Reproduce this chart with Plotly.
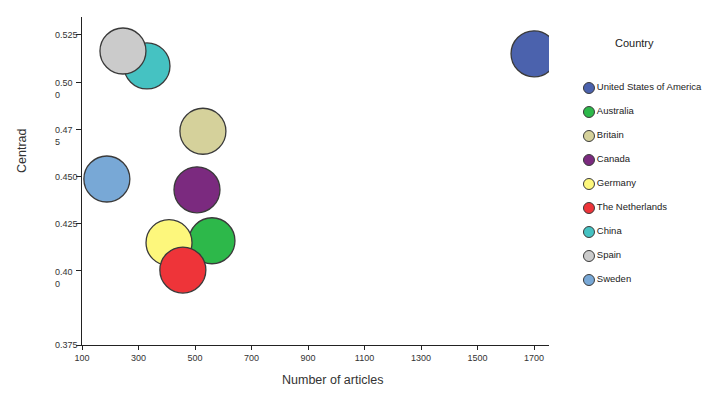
import plotly.graph_objects as go

# data
countries = ["United States of America", "Australia", "Britain", "Canada", "Germany",
             "The Netherlands", "China", "Spain", "Sweden"]
articles = [1700, 560, 528, 507, 408, 457, 330, 245, 188]
centrad = [0.515, 0.416, 0.474, 0.443, 0.415, 0.4005, 0.5086, 0.5165, 0.4487]
colors = ["#4b62ad", "#2db84a", "#d5d19b", "#7b2a7f", "#fdf77c",
          "#ee3439", "#45c2c2", "#cbcbcb", "#78a8d6"]

xtick_vals = [100, 300, 500, 700, 900, 1100, 1300, 1500, 1700]
# the source axis puts its "0.375" label at the very bottom of the axis,
# which is lower than a linear scale would put it
y_bottom = 0.3608
ytick_vals = [0.525, 0.500, 0.475, 0.450, 0.425, 0.400, y_bottom]
ytick_text = ["0.525", "0.50<br>0", "0.47<br>5", "0.450", "0.425", "0.40<br>0", "0.375"]

# the page body has an 8px margin, so the figure is made 8px smaller
PAGE_OFF = 8
W, H = 714 - PAGE_OFF, 395 - PAGE_OFF
# plot box in window pixels
X0, X1, Y0, Y1 = 82, 714, 17, 345
pw, ph = X1 - X0, Y1 - Y0
FONT = "Liberation Sans, Arial, sans-serif"


def px_x(p):
    return (p - X0) / pw


def px_y(p):
    return (Y1 - p) / ph


fig = go.Figure()

fig.add_trace(go.Scatter(
    x=articles, y=centrad, mode="markers",
    marker=dict(size=46, color=colors, opacity=1, line=dict(width=1.3, color="#3a3a3a")),
    text=countries, hoverinfo="text+x+y", showlegend=False,
))

# hand made legend on its own hidden axes
fig.add_trace(go.Scatter(
    x=[0.06] * len(countries), y=list(range(len(countries))),
    xaxis="x2", yaxis="y2", mode="markers+text",
    marker=dict(size=11, color=colors, line=dict(width=1, color="#3a3a3a")),
    text=countries, textposition="middle right",
    textfont=dict(size=9.5, color="#222", family=FONT),
    hoverinfo="skip", showlegend=False, cliponaxis=False,
))

annotations = []
for v, t in zip(ytick_vals, ytick_text):
    two = "<br>" in t
    annotations.append(dict(
        x=px_x(53), xref="paper", y=v, yref="y", text=t, showarrow=False,
        xanchor="left", yanchor="top" if two else "middle", yshift=6 if two else 0,
        align="left", font=dict(size=9, color="#333", family=FONT),
    ))

annotations += [
    dict(x=px_x(332), y=px_y(380), xref="paper", yref="paper", text="Number of articles",
         xanchor="center", yanchor="middle",
         showarrow=False, font=dict(size=12.5, color="#333", family=FONT)),
    dict(x=px_x(22), y=px_y(150), xref="paper", yref="paper", text="Centrad", textangle=-90,
         xanchor="center", yanchor="middle",
         showarrow=False, font=dict(size=12.5, color="#333", family=FONT)),
    dict(x=px_x(634), y=px_y(43), xref="paper", yref="paper", text="Country",
         xanchor="center", yanchor="middle",
         showarrow=False, font=dict(size=11, color="#222", family=FONT)),
]

fig.update_layout(
    width=W, height=H,
    margin=dict(l=X0 - PAGE_OFF, r=0, t=Y0 - PAGE_OFF, b=395 - Y1, autoexpand=False),
    paper_bgcolor="white", plot_bgcolor="white",
    font=dict(family=FONT, size=9, color="#333"),
    xaxis=dict(
        domain=[0, px_x(549)], range=[100, 1753],
        tickvals=xtick_vals, ticks="outside", ticklen=4, tickcolor="#222",
        showline=True, linecolor="#222", linewidth=1,
        showgrid=False, zeroline=False, tickfont=dict(size=9, color="#333"),
    ),
    yaxis=dict(
        range=[y_bottom, 0.5345], tickvals=ytick_vals, showticklabels=False,
        ticks="outside", ticklen=5, tickcolor="#222",
        showline=True, linecolor="#222", linewidth=1,
        showgrid=False, zeroline=False,
    ),
    xaxis2=dict(domain=[px_x(581), 1.0], range=[0, 1], anchor="y2", visible=False),
    yaxis2=dict(domain=[px_y(292), px_y(76)], range=[len(countries) - 0.5, -0.5],
                anchor="x2", visible=False),
    annotations=annotations,
)

fig.write_html("out.html")
